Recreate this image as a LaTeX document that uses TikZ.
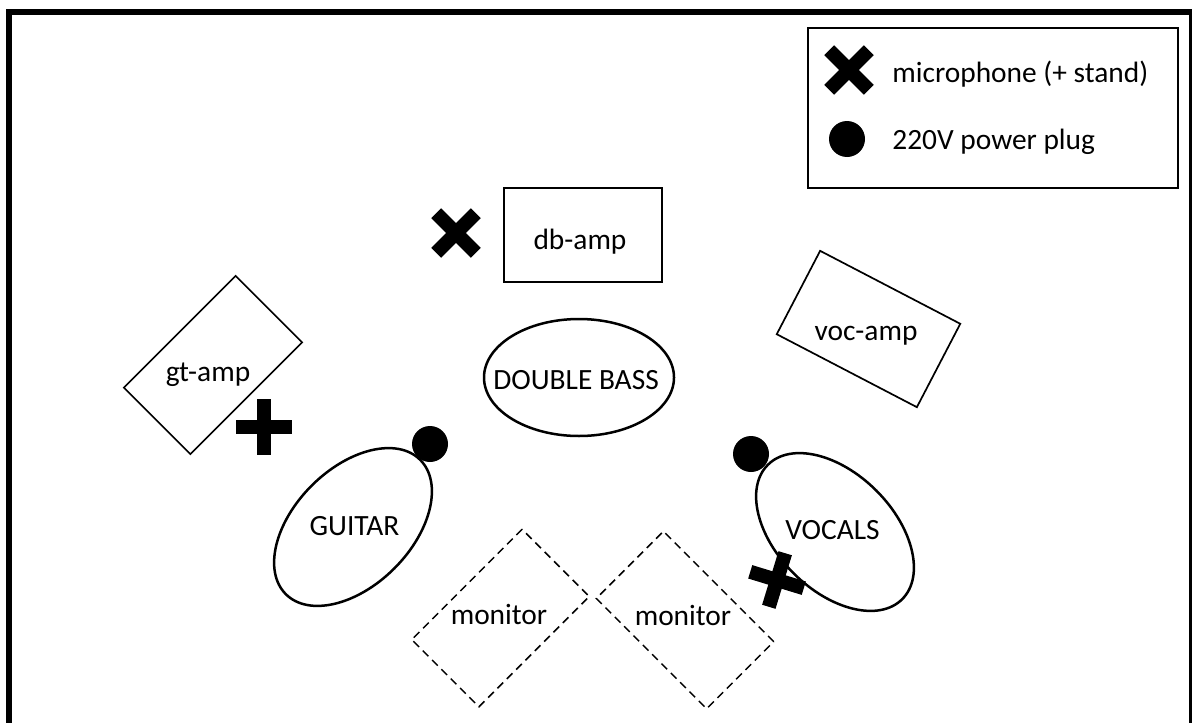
\documentclass[tikz,border=0pt]{standalone}
\usepackage{fontspec}
\setmainfont{Carlito}
\usetikzlibrary{shapes.geometric}
\tikzset{
  ampbox/.style={draw,line width=0.85pt,minimum width=79pt,minimum height=47pt,inner sep=0pt},
  monbox/.style={draw,line width=0.75pt,dash pattern=on 4pt off 2.6pt,minimum width=78pt,minimum height=47.5pt,inner sep=0pt},
  player/.style={draw,ellipse,line width=1.25pt,inner sep=0pt,minimum width=95pt,minimum height=58.5pt},
  plug/.style={circle,fill=black,minimum size=18pt,inner sep=0pt},
  lab/.style={font=\fontsize{14.7}{17}\selectfont,inner sep=0pt},
  mic/.pic={\fill (-28,-7) rectangle (28,7);\fill (-7,-28) rectangle (7,28);}
}
\begin{document}
\begin{tikzpicture}[line cap=butt,line join=miter,x=0.5pt,y=-0.5pt]
\clip(0,0) rectangle (1192,722);
\draw[line width=2.8pt] (9,730)-- (9,12)-- (1191.5,12)-- (1191.5,730);
\node[draw,line width=0.95pt,minimum width=185pt,minimum height=80pt,inner sep=0pt] (legend) at (993,108) {};
\pic[rotate=45] (miclegend) at (849,70) {mic};
\node[plug] (pluglegend) at (847,139) {};
\node[lab,anchor=west] (miclabel) at (892,74) {microphone (+ stand)};
\node[lab,anchor=west] (pluglabel) at (892,142) {220V power plug};
\node[ampbox] (dbamp) at (583,235) {};
\node[lab] (dbamplabel) at (580,242) {db-amp};
\pic[rotate=45] (micbass) at (456,233) {mic};
\node[ampbox,rotate=45] (gtamp) at (213,365) {};
\node[lab] (gtamplabel) at (208,375) {gt-amp};
\pic (micguitar) at (264,427) {mic};
\node[ampbox,rotate=-27.5] (vocamp) at (868.5,329) {};
\node[lab] (vocamplabel) at (866,336) {voc-amp};
\node[player] (bass) at (579,377.5) {};
\node[lab] (basslabel) at (576,380) {DOUBLE BASS};
\node[player,rotate=45] (guitar) at (353,527) {};
\node[lab] (guitarlabel) at (354.5,526) {GUITAR};
\node[plug] (plugguitar) at (430,444) {};
\node[player,rotate=-45] (vocals) at (835,532) {};
\node[lab] (vocalslabel) at (832.5,530) {VOCALS};
\node[plug] (plugvocals) at (751,454) {};
\pic[rotate=-17] (micvocals) at (777,580) {mic};
\node[monbox,rotate=45] (monleft) at (500.5,618) {};
\node[lab] (monleftlabel) at (499,614) {monitor};
\node[monbox,rotate=-45] (monright) at (685,620) {};
\node[lab] (monrightlabel) at (683,615) {monitor};
\end{tikzpicture}
\end{document}
